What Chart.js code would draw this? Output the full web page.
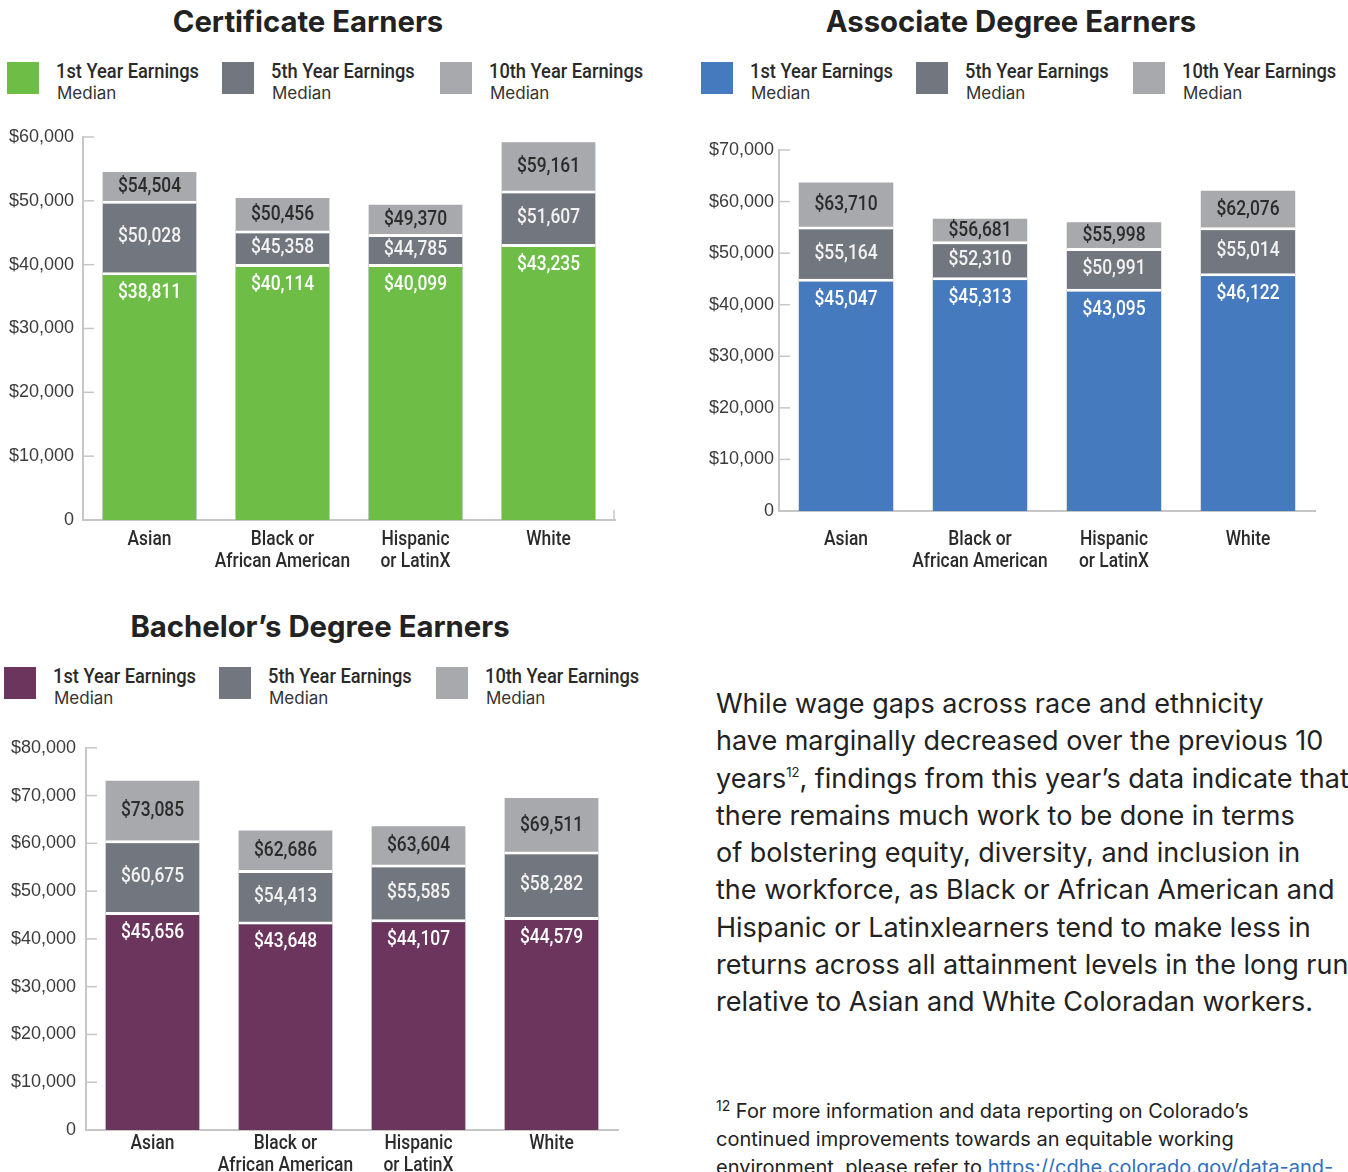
<!DOCTYPE html>
<html>
<head>
<meta charset="utf-8">
<script src="https://cdn.jsdelivr.net/npm/chart.js@4.4.1/dist/chart.umd.min.js"></script>
<style>
  body { margin: 0; width: 1348px; height: 1172px; overflow: hidden; background: #fff; position: relative; font-family: Inter, Roboto, sans-serif; color: #222; }
  .title { position: absolute; text-align: center; font-family: Inter, sans-serif; font-weight: 700; font-size: 29.3px; line-height: 34px; color: #222; }
  canvas { position: absolute; }
  .lg { position: absolute; white-space: nowrap; }
  .lg .sw { position: absolute; left: 0; top: 0; width: 32px; height: 32px; }
  .lg .t1 { position: absolute; left: 49px; top: -2px; font-family: Roboto, sans-serif; font-weight: 500; font-size: 21px; line-height: 22px; color: #2a2a2a; transform: scaleX(0.87); transform-origin: left center; }
  .lg .t2 { position: absolute; left: 50px; top: 21px; font-family: Inter, sans-serif; font-size: 17px; line-height: 20px; color: #333; }
  .para { position: absolute; left: 716px; top: 685px; font-family: Inter, sans-serif; font-size: 27px; line-height: 37.25px; color: #222; white-space: nowrap; }
  .para sup { font-size: 13px; line-height: 0; vertical-align: 0; position: relative; top: -11px; }
  .note { position: absolute; left: 716px; top: 1097px; font-family: Inter, sans-serif; font-size: 20px; line-height: 28px; color: #222; white-space: nowrap; }
  .note sup { font-size: 14px; line-height: 0; vertical-align: 0; position: relative; top: -7px; }
  .note a { color: #2f6fc0; text-decoration: underline; }
</style>
</head>
<body>

<div class="title" style="left:0; top:5px; width:616px;">Certificate Earners</div>
<div class="title" style="left:700px; top:5px; width:622px;">Associate Degree Earners</div>
<div class="title" style="left:0; top:610px; width:640px;">Bachelor’s Degree Earners</div>

<div id="legend1"></div>
<div id="legend2"></div>
<div id="legend3"></div>

<canvas id="certChart" width="640" height="470" style="left:0; top:117px;"></canvas>
<canvas id="assocChart" width="650" height="450" style="left:690px; top:130px;"></canvas>
<canvas id="bachChart" width="643" height="445" style="left:0; top:727px;"></canvas>

<div class="para">
While wage gaps across race and ethnicity<br>
have marginally decreased over the previous 10<br>
years<sup>12</sup>, findings from this year’s data indicate that<br>
there remains much work to be done in terms<br>
of bolstering equity, diversity, and inclusion in<br>
the workforce, as Black or African American and<br>
Hispanic or Latinxlearners tend to make less in<br>
returns across all attainment levels in the long run<br>
relative to Asian and White Coloradan workers.
</div>

<div class="note">
<sup>12</sup> For more information and data reporting on Colorado’s<br>
continued improvements towards an equitable working<br>
environment, please refer to <a>https://cdhe.colorado.gov/data-and-</a>
</div>

<script>
// categories + series names
const categories = ['Asian', ['Black or', 'African American'], ['Hispanic', 'or LatinX'], 'White'];
const seriesNames = ['1st Year Earnings', '5th Year Earnings', '10th Year Earnings'];

// certificate earners
const cert1st = [38811, 40114, 40099, 43235];
const cert5th = [50028, 45358, 44785, 51607];
const cert10th = [54504, 50456, 49370, 59161];

// associate degree earners
const assoc1st = [45047, 45313, 43095, 46122];
const assoc5th = [55164, 52310, 50991, 55014];
const assoc10th = [63710, 56681, 55998, 62076];

// bachelor's degree earners
const bach1st = [45656, 43648, 44107, 44579];
const bach5th = [60675, 54413, 55585, 58282];
const bach10th = [73085, 62686, 63604, 69511];

const GREEN = '#6dbd47';
const BLUE = '#457abf';
const PURPLE = '#6b355d';
const GRAY5 = '#72767e';
const GRAY10 = '#a7a9ac';
const AXIS = '#c6c6c6';
const SQUEEZE = 0.87; // no condensed font installed, so squeeze Roboto

const money = v => v === 0 ? '0' : '$' + v.toLocaleString('en-US');

function narrowText(ctx, text, x, y) {
    ctx.save();
    ctx.translate(x, y);
    ctx.scale(SQUEEZE, 1);
    ctx.fillText(text, 0, 0);
    ctx.restore();
}

// legend: swatch + two lines of text
function makeLegend(id, color, xs, top) {
    const el = document.getElementById(id);
    const cols = [color, GRAY5, GRAY10];
    seriesNames.forEach((name, i) => {
        const item = document.createElement('div');
        item.className = 'lg';
        item.style.left = xs[i] + 'px';
        item.style.top = top + 'px';
        item.innerHTML = `<div class="sw" style="background:${cols[i]}"></div><div class="t1">${name}</div><div class="t2">Median</div>`;
        el.append(item);
    });
}
makeLegend('legend1', GREEN, [7, 222, 440], 62);
makeLegend('legend2', BLUE, [701, 916, 1133], 62);
makeLegend('legend3', PURPLE, [4, 219, 436], 667);

// values written inside the bar segments
const barLabels = {
    id: 'barLabels',
    afterDatasetsDraw(chart) {
        const ctx = chart.ctx;
        const metas = [0, 1, 2].map(i => chart.getDatasetMeta(i));
        const ds = chart.data.datasets;
        ctx.save();
        ctx.font = '500 20px Roboto, sans-serif';
        ctx.textAlign = 'center';
        ctx.textBaseline = 'middle';
        metas[0].data.forEach((bar, i) => {
            const y0 = metas[0].data[i].y, y1 = metas[1].data[i].y, y2 = metas[2].data[i].y;
            ctx.fillStyle = '#ffffff';
            narrowText(ctx, money(ds[0].data[i]), bar.x, y0 + 21);
            ctx.fillStyle = '#f2f2f2';
            narrowText(ctx, money(ds[1].data[i]), bar.x, (y0 + y1) / 2 + 1);
            ctx.fillStyle = '#2b2b2b';
            narrowText(ctx, money(ds[2].data[i]), bar.x, (y1 + y2) / 2 + 1);
        });
        ctx.restore();
    }
};

// category names under the x axis + short inward tick marks
const axisExtras = {
    id: 'axisExtras',
    afterDraw(chart, args, opts) {
        const y = chart.scales.y, x = chart.scales.x, ctx = chart.ctx;
        ctx.save();
        ctx.strokeStyle = AXIS;
        ctx.lineWidth = 1.5;
        y.ticks.forEach(t => {
            const py = y.getPixelForValue(t.value);
            ctx.beginPath();
            ctx.moveTo(y.right, py);
            ctx.lineTo(y.right + 11, py);
            ctx.stroke();
        });
        if (opts.endTick) {
            ctx.beginPath();
            ctx.moveTo(x.right - 1, x.top);
            ctx.lineTo(x.right - 1, x.top - 10);
            ctx.stroke();
        }
        ctx.font = '500 20px Roboto, sans-serif';
        ctx.fillStyle = '#2b2b2b';
        ctx.textAlign = 'center';
        ctx.textBaseline = 'middle';
        x.ticks.forEach((t, i) => {
            const px = x.getPixelForTick(i);
            const lines = [].concat(t.label);
            lines.forEach((line, k) => narrowText(ctx, line, px, x.top + opts.labelOffset + k * 22));
        });
        ctx.restore();
    }
};

function makeChart(id, color, d1, d5, d10, opt) {
    const ctx = document.getElementById(id);
    return new Chart(ctx, {
        type: 'bar',
        data: {
            labels: categories,
            datasets: [
                { label: seriesNames[0], data: d1, backgroundColor: color, borderColor: '#fff', borderWidth: { top: 3, left: 0, right: 0, bottom: 0 }, borderSkipped: 'bottom' },
                { label: seriesNames[1], data: d5, backgroundColor: GRAY5, borderColor: '#fff', borderWidth: { top: 3, left: 0, right: 0, bottom: 0 }, borderSkipped: 'bottom' },
                { label: seriesNames[2], data: d10, backgroundColor: GRAY10, borderWidth: 0 }
            ]
        },
        options: {
            responsive: false,
            animation: false,
            layout: { padding: { top: 20, right: 25, left: 0, bottom: 0 } },
            datasets: { bar: { barPercentage: 0.705, categoryPercentage: 1 } },
            plugins: {
                legend: { display: false },
                tooltip: { enabled: false },
                axisExtras: { endTick: opt.endTick, labelOffset: opt.labelOffset }
            },
            scales: {
                x: {
                    stacked: true,
                    grid: { display: false, drawTicks: false },
                    border: { display: true, color: AXIS, width: 2 },
                    ticks: { display: false },
                    afterFit: s => { s.height = opt.xHeight; }
                },
                y: {
                    stacked: false,
                    min: 0,
                    max: opt.max,
                    ticks: { stepSize: 10000, color: '#3c3c3c', font: { family: "'Liberation Sans', Arial, sans-serif", size: 18 }, padding: opt.tickPad, callback: v => money(v) },
                    grid: { display: false, drawTicks: false },
                    border: { display: true, color: AXIS, width: 2 },
                    afterFit: s => { s.width = opt.yWidth; }
                }
            }
        },
        plugins: [barLabels, axisExtras]
    });
}

makeChart('certChart', GREEN, cert1st, cert5th, cert10th, { max: 60000, yWidth: 83, xHeight: 67, tickPad: 9, endTick: true, labelOffset: 20 });
makeChart('assocChart', BLUE, assoc1st, assoc5th, assoc10th, { max: 70000, yWidth: 89, xHeight: 69, tickPad: 5, endTick: false, labelOffset: 29 });
makeChart('bachChart', PURPLE, bach1st, bach5th, bach10th, { max: 80000, yWidth: 86, xHeight: 42, tickPad: 10, endTick: false, labelOffset: 14 });
</script>
</body>
</html>
